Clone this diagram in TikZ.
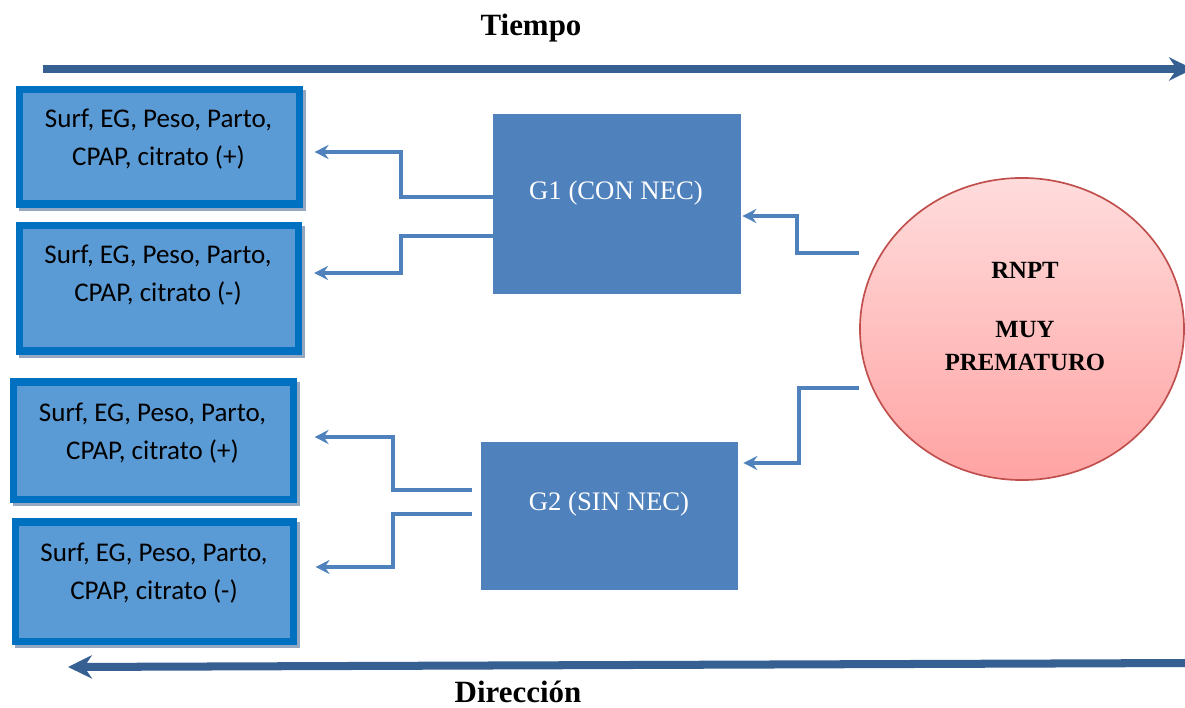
\documentclass[tikz,border=0pt]{standalone}
\usepackage{fontspec}
\setmainfont{Liberation Serif}
\newfontfamily\boxfont{Carlito}
\usetikzlibrary{calc,arrows.meta,shapes.geometric,shadows}

\definecolor{boxblue}{RGB}{91,155,213}
\definecolor{boxline}{RGB}{0,112,192}
\definecolor{boxshade}{RGB}{148,168,194}
\definecolor{grpblue}{RGB}{79,129,189}
\definecolor{timeblue}{RGB}{55,96,146}
\definecolor{rnptline}{RGB}{192,80,77}
\definecolor{rnpttop}{RGB}{255,220,220}
\definecolor{rnptbot}{RGB}{255,163,163}

\tikzset{
	outbox/.style={draw=boxline, fill=boxblue, line width=5pt, inner sep=0pt,
		general shadow={fill=boxshade, draw=boxshade, line width=5pt, shadow xshift=2.1pt, shadow yshift=-2.8pt}},
	outtxt/.style={align=center, font=\boxfont\fontsize{19.2}{27}\selectfont},
	grp/.style={fill=grpblue, inner sep=0pt},
	grptxt/.style={text=white, font=\fontsize{19}{23}\selectfont},
	rnpt/.style={ellipse, draw=rnptline, line width=1.2pt, top color=rnpttop, bottom color=rnptbot,
		minimum width=8.1cm, minimum height=7.55cm, inner sep=0pt},
	rnpttxt/.style={align=center, font=\bfseries\fontsize{17.6}{23.5}\selectfont},
	conn/.style={draw=grpblue, line width=2.8pt, -{Stealth[length=10pt, width=10pt, inset=3.5pt]}},
	timeline/.style={draw=timeblue, line width=5.7pt, -{Stealth[length=17pt, width=16.5pt, inset=5.5pt]}},
	ttl/.style={inner sep=0pt, font=\bfseries\fontsize{22}{26}\selectfont}
}

\begin{document}
\begin{tikzpicture}[x=0.025cm, y=-0.025cm]
		%%%%% START %%%%%
		\useasboundingbox (0,0) rectangle (1185,708);
		
		% time line on top
		\node[ttl] (tiempo) at (531,28) {Tiempo};
		\coordinate (t0) at (43,69);
		\coordinate (t1) at (1193,69);
		\draw[timeline] (t0) -- (t1);
		
		% outcome boxes
		\node[outbox, minimum width=6.975cm, minimum height=2.85cm] (o1) at (159.5,147) {};
		\node[outbox, minimum width=6.95cm, minimum height=3.125cm] (o2) at (159,288.5) {};
		\node[outbox, minimum width=6.975cm, minimum height=2.925cm] (o3) at (153.5,440.5) {};
		\node[outbox, minimum width=6.925cm, minimum height=2.975cm] (o4) at (154.5,581.5) {};
		\node[outtxt] (o1t) at (158.5,139) {Surf, EG, Peso, Parto,\\CPAP, citrato (+)};
		\node[outtxt] (o2t) at (158,275) {Surf, EG, Peso, Parto,\\CPAP, citrato (-)};
		\node[outtxt] (o3t) at (152.5,433) {Surf, EG, Peso, Parto,\\CPAP, citrato (+)};
		\node[outtxt] (o4t) at (154,573.5) {Surf, EG, Peso, Parto,\\CPAP, citrato (-)};
		
		% groups
		\node[grp, minimum width=6.2cm, minimum height=4.5cm] (g1) at (617,204) {};
		\node[grptxt] (g1t) at (616,193) {G1 (CON NEC)};
		\node[grp, minimum width=6.425cm, minimum height=3.7cm] (g2) at (609.5,516) {};
		\node[grptxt] (g2t) at (609,504) {G2 (SIN NEC)};
		
		% RNPT
		\node[rnpt] (rn) at (1022,329) {};
		\node[rnpttxt] (rnt) at (1025,316.5) {RNPT\\[19pt]MUY\\PREMATURO};
		
		\draw[conn] ($(rn.west)+(0,-76)$) -- ++(-62,0) |- ($(g1.east)+(1,12)$);
		\draw[conn] ($(rn.west)+(0,59)$) -- ++(-60,0) |- ($(g2.east)+(5,-53)$);
		
		\draw[conn] ($(g1.west)+(0,-7)$) -- ++(-92,0) |- ($(o1.east)+(12,5)$);
		\draw[conn] ($(g1.west)+(0,32)$) -- ++(-92,0) |- ($(o2.east)+(12.5,-15.5)$);
		\draw[conn] ($(g2.west)+(-9,-26)$) -- ++(-79,0) |- ($(o3.east)+(18,-3.5)$);
		\draw[conn] ($(g2.west)+(-9,-2)$) -- ++(-79,0) |- ($(o4.east)+(19,-14.5)$);
		
		% time line at the bottom
		\coordinate (d0) at (1193,663);
		\coordinate (d1) at (68,667);
		\draw[timeline] (d0) -- (d1);
		\node[ttl, anchor=base] (direccion) at (518,702) {Dirección};
		%%%%% END %%%%%
\end{tikzpicture}
\end{document}
